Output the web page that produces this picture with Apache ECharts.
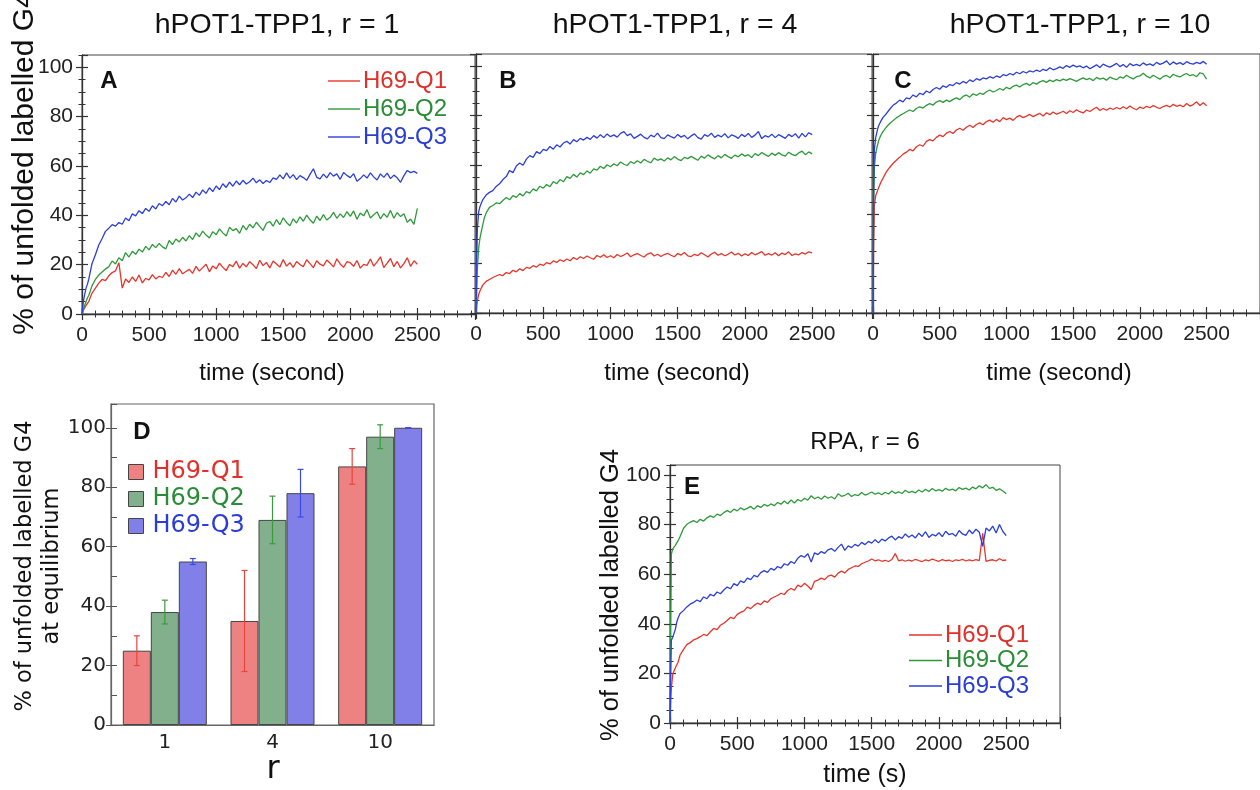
<!DOCTYPE html>
<html><head><meta charset="utf-8">
<script src="https://cdn.jsdelivr.net/npm/echarts@6/dist/echarts.min.js"></script>
<style>html,body{margin:0;padding:0;background:#fff}#c{width:1260px;height:790px}</style>
</head><body><div id="c"></div>
<script>
// ---------- data ----------
const timeSec = [0,5,10,20,30,40,50,60,75,100,125,150,175,
200,225,250,275,300,325,350,375,
400,425,450,475,500,525,550,575,
600,625,650,675,700,725,750,775,
800,825,850,875,900,925,950,975,
1000,1025,1050,1075,1100,1125,1150,1175,
1200,1225,1250,1275,1300,1325,1350,1375,
1400,1425,1450,1475,1500,1525,1550,1575,
1600,1625,1650,1675,1700,1725,1750,1775,
1800,1825,1850,1875,1900,1925,1950,1975,
2000,2025,2050,2075,2100,2125,2150,2175,
2200,2225,2250,2275,2300,2325,2350,2375,
2400,2425,2450,2475,2500];

const seriesNames = ['H69-Q1','H69-Q2','H69-Q3'];

// Panel A: hPOT1-TPP1, r = 1
const aQ1 = [0,0.8,1.5,2.5,3.5,4.2,5,6.5,8.5,10.5,12.5,14,13.5,
15.5,16.8,17.5,20.8,10.5,14.2,12.8,15,
13.2,15.8,12.6,14.4,13.8,16,14.2,15.3,
14.8,16.9,15.2,17.8,16.1,18.4,16.3,17.2,
18.1,16.5,19.3,17.4,18.8,20.2,17.1,19.5,
18.3,20.6,18.9,17.6,20.1,19.2,21.4,18.6,
20.5,19.1,21.2,20,18.4,21.8,19.6,20.9,
18.7,21.5,20.3,19,22.1,19.4,20.8,18.9,
21.3,20.1,19.2,22,20.4,18.8,21.6,20.2,
19.5,21.9,20.6,19.1,22.4,20.3,18.9,21.2,
20.8,19.3,21.7,18.6,20.1,19.7,22.3,19.4,
21.1,23.2,18.8,20.6,22.5,19.2,21.3,18.7,
20.4,22.8,19.3,21.6,20.2];
const aQ2 = [0,0.8,1.8,3.5,5,6.5,7.5,9,11.5,14,15.8,17,18.2,
19.2,21.5,20.3,22.8,21.6,24.9,23.1,25.4,
24.2,26.3,25.1,27.4,26,28.2,26.9,28.6,
27.2,26.4,29.8,28.1,30.4,29.2,31.1,29.6,
31.8,30.2,32.9,31.3,33.6,32,30.8,33.4,
32.1,34.5,32.9,31.6,35.2,33.8,34.6,32.7,
35.9,34.1,36.4,34.9,37.2,35.5,33.9,36.8,
37.5,35.6,38.3,36.2,39,37.1,35.8,38.6,
36.9,39.4,37.6,40.1,38.2,36.8,39.7,37.9,
40.3,38.1,39.2,41.2,38.8,40.6,39.1,41.5,
39.6,41.8,38.4,40.9,39.8,42.3,38.9,40.2,
41.4,38.6,40.7,39.2,42,38.8,41.1,39.5,
40.6,37.2,38.5,36.3,42.8];
const aQ3 = [0,2.5,5,8,10.5,12,14,14.2,20.5,24,28,30.6,33.5,
34.8,36.2,35.6,37.1,36.4,38.9,37.8,40.6,
39.8,41.9,40.7,42.8,41.6,43.9,42.6,44.8,
43.9,45.6,44.3,46.9,45.4,47.8,46.2,47.1,
48.6,47.2,49.4,48.1,50.3,48.9,51.2,49.6,
51.9,50.4,52.8,51.3,53.5,51.8,53.9,52.4,
54.2,52.7,53.6,55.1,53.2,54.4,52.9,54.1,
53.3,55.2,54.6,56.4,54.8,57.2,55.1,56.5,
54.5,56.1,55.3,54.2,56.6,58.9,55.4,54.8,
56.7,55.2,57.3,55.9,56.8,54.6,57.4,56.2,
55.3,56.9,53.8,54.9,56.4,55.1,57.2,55.6,
54.3,56.8,55.4,57.1,54.9,56.3,55.2,53.4,
56.1,58.2,57.3,57.8,57];

// Panel B: hPOT1-TPP1, r = 4
const bQ1 = [0,2.8,5,7.5,9,10.2,11.3,12.1,12.8,13.6,14.4,15,15.6,
15.2,16.4,16,17.3,16.7,17.9,17.2,18.5,
18.1,19.2,18.6,19.8,19.3,20.4,19.9,21.1,
20.5,21.6,20.9,21.9,21.2,22.5,21.7,22.8,
22.1,23.1,22.4,21.8,23.3,22.6,23.6,22.5,
23.2,22.4,23.7,22.9,23.5,24.3,22.8,23.6,
24.1,23.3,22.7,23.9,24.4,23.1,23.8,22.9,
23.7,24.2,23.4,22.8,24.1,23.5,24.5,23.2,
22.9,23.8,23.3,24.4,23.6,22.7,23.9,24.6,
23.4,24.1,23.2,23.8,24.7,23.5,24.2,23.1,
24,23.3,24.5,23.6,24.2,24.9,23.4,24.1,
23.5,24.4,23.2,24.3,23.7,24.8,23.3,24,
23.6,24.5,23.9,24.8,24.4];
const bQ2 = [0,9,18,26.5,30.5,33.2,35.6,38.2,40.5,42.8,43.6,44.6,44.3,
45.6,46.8,45.9,47.6,46.9,48.4,47.5,49.2,
48.6,50.3,49.5,51.4,50.6,52.1,51.2,53.3,
52.4,54.1,53.2,55.3,54.6,56.2,55.1,56.8,
56.1,57.6,56.7,58.4,57.9,59.5,58.6,60.1,
59.3,60.5,59.7,61.2,60.3,59.8,61.4,60.6,
61.7,60.8,62.3,61.5,60.9,62.8,61.9,62.5,
61.6,62.9,62.1,63.4,62.4,61.8,63.1,62.6,
63.5,62.7,61.9,63.6,62.8,64.1,63.2,62.5,
63.8,62.9,64.3,63.4,62.7,64,63.3,64.5,
63.6,64.2,63,64.6,63.8,65.1,64.2,63.5,
64.8,63.9,65,64.1,63.6,65.2,64.3,63.8,
64.9,65.6,64.2,65.3,64.5];
const bQ3 = [0,22,34,41,43.2,44.6,45.9,46.5,47.8,48.9,49.6,51.3,52.4,
54.1,55.3,57.8,56.9,59.6,60.8,59.9,62.4,
63.8,63.1,65.4,64.6,66.3,65.8,67.5,66.4,
68.2,67.3,68.9,69.6,68.5,70.3,69.4,70.8,
70.1,71.2,70.4,71.9,70.9,72.3,71.1,72.6,
71.5,72.2,71.3,72.8,73.5,71.9,72.6,70.8,
71.6,72.5,71.2,70.6,72.1,71.4,72.9,71.1,
70.7,72.2,71.5,70.9,72.4,71.3,72,70.6,
71.8,72.6,71.1,70.5,72.3,71.6,72.9,71.2,
72.1,71.4,72.7,71,72.2,71.7,70.8,72.4,
71.5,72.8,71.2,72.1,73.6,70.7,71.9,71.3,
72.5,71.1,72.3,71.6,70.8,72.4,71.5,72.7,
70.9,72.8,71.4,73.1,72.3];

// Panel C: hPOT1-TPP1, r = 10
const cQ1 = [0,30,43.5,47.5,49,50.5,51.8,53.1,54.6,57.2,59,60.6,61.9,
63.1,64.4,65.2,66.3,65.7,67.4,68.2,67.6,
69.6,70.3,69.8,71.2,72.1,71.5,72.9,73.6,
72.8,74.2,74.9,74.1,75.3,76.1,75.2,76.4,
77.1,76.3,77.6,78.2,77.3,78.5,77.6,79.2,
78.4,79,78.1,79.4,80.1,79.2,79.8,80.5,
79.6,80.3,80.9,79.9,81.2,80.4,81.5,80.6,
81.1,81.8,80.9,82,81.3,82.4,81.6,81.1,
82.3,81.7,82.6,83.4,82.1,82.9,82.2,83.1,
82.5,83.3,82.7,83.6,82.8,83.9,83,82.4,
83.5,82.9,83.8,83.2,84.1,83.4,82.9,83.7,
84.2,83.5,84.6,83.8,84.3,83.6,84.9,83.9,
84.5,85.6,84.1,85.2,84];
const cQ2 = [0,45,59,64.6,67.2,69.4,71,72.2,73.5,75.4,76.8,77.9,79.1,
80,80.8,81.6,82.3,81.7,82.9,83.6,83.1,
84.2,84.9,84.3,85.5,86.1,85.4,86.3,85.7,
86.6,87.2,86.5,87.8,88.4,87.5,88.9,88.2,
89.1,88.6,89.7,90.4,89.6,90.2,91,90.3,
91.5,90.8,91.9,92.4,91.6,92.6,93.1,92.3,
93.4,92.8,93.7,94.2,93.5,94.4,93.8,94.6,
94.1,94.8,94.3,95,94.5,93.9,94.7,95.3,
94.6,95.1,94.2,95.5,94.8,95.2,94.4,95.6,
95,94.6,95.7,95.2,96.4,95.5,94.9,95.8,
96.1,97.2,96,95.3,96.4,95.6,94.8,95.9,
96.3,95.4,96.8,96.1,95.7,96.5,97.1,96.2,
96.6,95.8,97.4,96.9,94.8];
const cQ3 = [0,52,66,71,73.5,75.6,76.8,77.9,79.3,80.8,82.6,84.2,85.1,
86.3,85.6,87.2,86.8,88.4,87.6,89.1,88.5,
90,89.3,90.6,91.4,90.7,92.1,91.5,92.6,
92.2,93.4,92.8,93.9,93.2,94.5,93.8,95,
94.4,95.3,94.9,95.8,95.2,96.1,95.5,96.6,
96.2,97.1,96.5,97.6,97,97.9,97.3,98.2,
97.7,98.5,97.9,98.8,98.3,99.4,98.6,99.1,
99.8,99.2,100.3,99.6,100.5,99.8,100.2,99.4,
100.1,99,99.8,100.6,99.5,100.9,100.2,99.7,
100.4,101.2,99.9,100.7,99.6,101.1,100.3,100.8,
100.2,101.4,100.5,101,100.3,101.6,100.8,101.3,
102.2,100.6,101.8,100.9,101.5,100.7,101.9,101.2,
100.9,101.6,101.1,102,100.8];

// Panel E: RPA, r = 6
const eQ1 = [0,9,14,19.5,21,22.3,22.8,24.5,27.4,29.6,31.6,32.4,33.5,
34,34.8,35.7,35.2,36.8,38.1,37.6,39.4,
40.2,41.3,42.6,42.1,43.8,44.6,45.2,46.7,
46.1,47.4,48.3,47.7,49.2,48.6,50.1,50.8,
51.4,52.3,51.8,53.4,54.2,53.5,55.6,54.9,
56.3,55.2,53.8,57.1,57.6,58.4,57.8,59.2,
59.6,58.8,60.4,61.2,60.5,61.9,62.6,63.3,
63.1,64.2,64.8,65.3,66.1,65.4,65.8,65.2,
65.6,65.1,65.9,68.3,65.4,65.8,65.2,65.7,
65.3,66,65.5,65.1,65.8,65.4,66.1,65.6,
65.2,65.9,65.4,65.7,65.1,65.8,65.5,66,
65.3,65.8,65.4,65.9,65.5,76.5,65.2,65.6,
65.8,65.3,66.2,65.5,65.7];
const eQ2 = [0,40,68,70.2,70.8,71.6,72.4,73.5,75.2,78.4,80.1,80.9,81.6,
80.8,82.1,81.4,82.7,83.5,82.9,84.2,83.6,
84.8,85.6,84.9,86.2,85.5,86.8,85.9,86.5,
87.3,86.2,87.6,86.9,88.1,87.4,88.3,87.6,
88.9,88.2,89.5,88.4,89.9,88.7,90.1,89.4,
90.6,89.8,91.6,90.4,91.1,90.2,91.5,90.6,
91.2,90.3,92.4,91.4,91.8,92.6,91.3,92.1,
91.7,92.9,91.9,92.4,93.1,92.2,92.8,92,
93,92.3,93.5,92.6,93.2,92.5,93.8,92.9,
93.4,92.8,93.9,93.1,94.2,93.3,94.5,93.6,
94.1,93.4,94.6,93.8,94.3,93.6,94.9,94.2,
94.7,93.9,95.1,94.4,95.6,94.8,96.1,94.6,
95,93.8,94.4,93.5,92.4];
const eQ3 = [0,20,33.4,34.5,35,37.8,40.6,42.3,44.1,45.3,46.8,47.9,48.6,
49.6,48.9,50.8,50.1,51.9,51.2,52.8,52.1,
53.6,54.8,54.1,56.2,55.4,57.3,56.6,58.4,
57.8,59.5,58.9,60.6,61.4,60.7,62.3,61.6,
63.1,62.4,64.2,63.6,65.1,64.3,66.4,67.5,
66.8,68.2,64.9,68.6,67.9,69.1,68.4,69.8,
70.3,69.2,70.8,72.1,69.6,71.4,70.7,72,
71.3,72.8,71.9,73.2,72.5,73.9,72.6,74.1,
73.4,74.6,75.3,73.8,75.1,74.4,76.2,74.9,
75.8,74.6,76.5,75.2,77.1,74.8,76,75.4,
76.7,75.1,77.3,75.9,76.4,75.3,77.6,76.2,
75.6,77.8,76.3,78.1,76.9,71.2,78.6,77.4,
79.4,76.6,80,77.2,75.5];

// Panel D: equilibrium values
const rCategories = ['1','4','10'];
const eqQ1 = [25, 35, 87];   const errQ1 = [5, 17, 6];
const eqQ2 = [38, 69, 97];   const errQ2 = [4, 8, 4];
const eqQ3 = [55, 78, 100];  const errQ3 = [1, 8, 0];

// ---------- styling ----------
const LINE_COLORS = ['#e5352b','#2f9a3c','#2c3fdc'];
const TEXT_COLORS = ['#e0302a','#2a8c36','#2a3dd6'];
const BAR_COLORS = ['#ee8282','#82b08c','#8180e8'];
const ERR_COLORS = ['#e8453c','#3a9a40','#3a4ae6'];
const AX = '#333';
const SANS = 'Liberation Sans';
const DJV = 'DejaVu Sans';
const plain = v => String(v);

const pair = vals => timeSec.map((t,i)=>[t, vals[i]]);

const panels = [
  {key:'A', grid:{left:82, top:55, width:393, height:259}, xMax:2930, yMax:105, yLabels:true, data:[aQ1,aQ2,aQ3]},
  {key:'B', grid:{left:476, top:54, width:396, height:259}, xMax:2945, yMax:105, yLabels:false, data:[bQ1,bQ2,bQ3]},
  {key:'C', grid:{left:873, top:54, width:389, height:259}, xMax:2900, yMax:105, yLabels:false, data:[cQ1,cQ2,cQ3]},
  {key:'E', grid:{left:670, top:465, width:390, height:258}, xMax:2900, yMax:104, yLabels:true, data:[eQ1,eQ2,eQ3]}
];

const grids=[], xAxes=[], yAxes=[], series=[];
const tickStyle = {color:AX, width:1.2};

panels.forEach((p, gi) => {
  grids.push(Object.assign({show:true, borderColor:'#444', borderWidth:1, backgroundColor:'rgba(0,0,0,0)'}, p.grid));
  const xMain = xAxes.length;
  const bx = {gridIndex:gi, type:'value', min:0, max:p.xMax, interval:500, position:'bottom', splitLine:{show:false}, minorSplitLine:{show:false}};
  xAxes.push(Object.assign({}, bx, {
    axisLine:{show:true, onZero:false, lineStyle:{color:AX, width:1.3}},
    axisTick:{show:true, length:6, lineStyle:tickStyle},
    minorTick:{show:true, splitNumber:5, length:3.5, lineStyle:{color:AX, width:1}},
    axisLabel:{show:true, showMaxLabel:false, fontSize:21, color:'#222', margin:11, fontFamily:SANS, formatter:plain}
  }));
  xAxes.push(Object.assign({}, bx, {
    axisLine:{show:false, onZero:false},
    axisTick:{show:true, inside:true, length:6, lineStyle:tickStyle},
    minorTick:{show:true, splitNumber:5, length:3.5, lineStyle:{color:AX, width:1}},
    axisLabel:{show:false}
  }));
  const yMain = yAxes.length;
  const by = {gridIndex:gi, type:'value', min:0, max:p.yMax, position:'left', splitLine:{show:false}};
  yAxes.push(Object.assign({}, by, {interval:20,
    axisLine:{show:true, onZero:false, lineStyle:{color:AX, width:1.3}},
    axisTick:{show:true, length:6, lineStyle:tickStyle},
    axisLabel:{show:p.yLabels, showMaxLabel:false, fontSize:21, color:'#222', margin:9, fontFamily:SANS, formatter:plain}}));
  yAxes.push(Object.assign({}, by, {interval:20, axisLine:{show:false, onZero:false},
    axisTick:{show:true, inside:true, length:6, lineStyle:tickStyle}, axisLabel:{show:false}}));
  yAxes.push(Object.assign({}, by, {interval:5, axisLine:{show:false, onZero:false},
    axisTick:{show:true, length:3.5, lineStyle:{color:AX, width:1}}, axisLabel:{show:false}}));
  yAxes.push(Object.assign({}, by, {interval:5, axisLine:{show:false, onZero:false},
    axisTick:{show:true, inside:true, length:3.5, lineStyle:{color:AX, width:1}}, axisLabel:{show:false}}));
  p.data.forEach((vals, k) => {
    series.push({type:'line', name:p.key+'|'+seriesNames[k], xAxisIndex:xMain, yAxisIndex:yMain,
      data:pair(vals), symbol:'none', showSymbol:false, silent:true,
      lineStyle:{color:LINE_COLORS[k], width:1.3}, itemStyle:{color:LINE_COLORS[k]}});
  });
});

// Panel D (bar chart)
const gD = grids.length;
grids.push({show:true, left:111, top:404, width:323, height:321, borderColor:'#666', borderWidth:1.2, backgroundColor:'rgba(0,0,0,0)'});
const xD = xAxes.length;
xAxes.push({gridIndex:gD, type:'category', data:rCategories, position:'bottom',
  axisLine:{show:true, onZero:false, lineStyle:{color:'#666', width:1.2}}, axisTick:{show:false},
  axisLabel:{fontSize:20, color:'#222', margin:8, fontFamily:DJV}});
const yD = yAxes.length;
yAxes.push({gridIndex:gD, type:'value', min:0, max:108, interval:20, position:'left', splitLine:{show:false},
  axisLine:{show:true, onZero:false, lineStyle:{color:'#666', width:1.2}},
  axisTick:{show:true, length:5, lineStyle:{color:'#555', width:1}},
  axisLabel:{showMaxLabel:false, fontSize:20, color:'#222', margin:5, fontFamily:DJV}});
yAxes.push({gridIndex:gD, type:'value', min:0, max:108, interval:10, position:'left', splitLine:{show:false},
  axisLine:{show:false, onZero:false}, axisTick:{show:true, inside:true, length:6, lineStyle:{color:'#555', width:1}},
  axisLabel:{show:false}});

const eqVals = [eqQ1, eqQ2, eqQ3];
const errVals = [errQ1, errQ2, errQ3];
const GAP = 0.22;
eqVals.forEach((vals, k) => {
  series.push({type:'bar', name:'D|'+seriesNames[k], xAxisIndex:xD, yAxisIndex:yD, data:vals,
    barGap:'0%', barCategoryGap:(GAP*100)+'%', silent:true,
    itemStyle:{color:BAR_COLORS[k], borderColor:'#454545', borderWidth:1}});
});
eqVals.forEach((vals, k) => {
  series.push({type:'custom', name:'Derr'+k, xAxisIndex:xD, yAxisIndex:yD, z:5, silent:true,
    data: rCategories.map((c,i)=>[i, vals[i], errVals[k][i]]),
    encode:{x:0, y:1},
    renderItem:(params, api) => {
      const ci = api.value(0), v = api.value(1), e = api.value(2);
      const band = api.size([1,0])[0];
      const bw = band*(1-GAP)/3;
      const hi = api.coord([ci, v+e]), lo = api.coord([ci, v-e]);
      const x = hi[0] + (k-1)*bw;
      const st = {stroke:ERR_COLORS[k], lineWidth:1.2};
      return {type:'group', children:[
        {type:'line', shape:{x1:x, y1:hi[1], x2:x, y2:lo[1]}, style:st},
        {type:'line', shape:{x1:x-3, y1:hi[1], x2:x+3, y2:hi[1]}, style:st},
        {type:'line', shape:{x1:x-3, y1:lo[1], x2:x+3, y2:lo[1]}, style:st}
      ]};
    }});
});

// ---------- legends ----------
const fmt = n => n.split('|')[1];
function lineLegend(prefix, left, top, gap, w){
  return {orient:'vertical', left, top, padding:0, icon:'rect', itemWidth:w, itemHeight:1.4, itemGap:gap, selectedMode:false,
    formatter:fmt, textStyle:{fontSize:24, fontFamily:SANS, padding:[0,0,0,-2]},
    data: seriesNames.map((n,k)=>({name:prefix+'|'+n, textStyle:{color:TEXT_COLORS[k]}}))};
}
const legends = [
  lineLegend('A', 328, 69, 4, 32),
  lineLegend('E', 909, 623, 1.5, 33),
  {orient:'vertical', left:128, top:460, padding:0, itemWidth:15, itemHeight:15, itemGap:3, selectedMode:false, icon:'rect',
   formatter:fmt, itemStyle:{borderColor:'#444', borderWidth:1},
   textStyle:{fontSize:24, fontFamily:DJV, padding:[0,0,0,4]},
   data: seriesNames.map((n,k)=>({name:'D|'+n, textStyle:{color:TEXT_COLORS[k]}}))}
];

// ---------- texts ----------
function txt(text, x, y, size, opt){
  opt = opt || {};
  return {type:'text', x, y, rotation: opt.rot || 0, silent:true, z:10,
    style:{text, fill: opt.color || '#111', fontSize:size, fontFamily: opt.family || SANS,
      fontWeight: opt.weight || 'normal', align:'center', verticalAlign:'middle'}};
}
const R = Math.PI/2;
const graphics = [
  txt('hPOT1-TPP1, r = 1', 277, 25, 28.5),
  txt('hPOT1-TPP1, r = 4', 675, 25, 28.5),
  txt('hPOT1-TPP1, r = 10', 1080, 25, 28.5),
  txt('RPA, r = 6', 865, 442, 24),
  txt('% of unfolded labelled G4', 25, 163, 30, {rot:R}),
  txt('% of unfolded labelled G4', 611, 595, 25.5, {rot:R}),
  txt('% of unfolded labelled G4', 25, 566, 22.5, {rot:R, family:DJV}),
  txt('at equilibrium', 52, 566, 22.5, {rot:R, family:DJV}),
  txt('time (second)', 272, 373, 24),
  txt('time (second)', 677, 373, 24),
  txt('time (second)', 1059, 373, 24),
  txt('time (s)', 865, 775, 25),
  txt('r', 273, 770, 32, {family:DJV}),
  txt('A', 109, 81, 24, {weight:'bold'}),
  txt('B', 508, 81, 24, {weight:'bold'}),
  txt('C', 903, 81, 24, {weight:'bold'}),
  txt('D', 142, 432, 24, {weight:'bold'}),
  txt('E', 692, 487, 24, {weight:'bold'})
];

const chart = echarts.init(document.getElementById('c'), null, {renderer:'canvas'});
chart.setOption({
  animation:false,
  backgroundColor:'#fff',
  grid:grids, xAxis:xAxes, yAxis:yAxes, series:series,
  legend:legends, graphic:graphics
});
</script></body></html>
